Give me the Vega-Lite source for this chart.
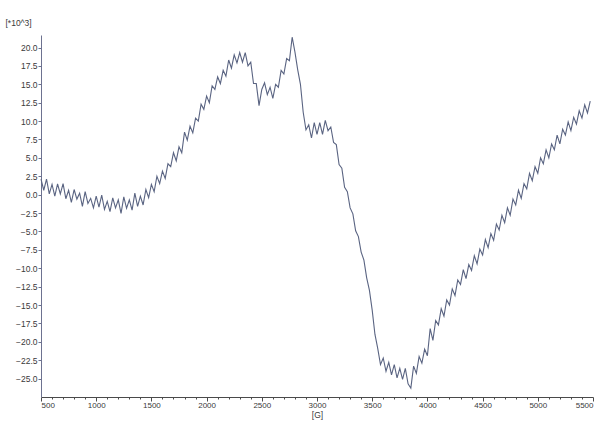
{
  "$schema": "https://vega.github.io/schema/vega-lite/v6.json",
  "width": 552,
  "height": 362,
  "autosize": {"type": "none"},
  "padding": {"left": 41, "top": 35, "right": 21, "bottom": 24},
  "background": "#ffffff",
  "config": {
    "view": {"stroke": null},
    "axis": {
      "labelFont": "Liberation Sans",
      "titleFont": "Liberation Sans",
      "labelFontSize": 8.5,
      "titleFontSize": 8.5,
      "labelColor": "#3a3a3a",
      "titleColor": "#3a3a3a",
      "titleFontWeight": "normal",
      "domainColor": "#6d7290",
      "tickColor": "#6d7290",
      "grid": false
    }
  },
  "data": {
    "values": [
      {"field": 500, "signal": 2.1}, {"field": 525, "signal": 0.6}, {"field": 550, "signal": 2.1}, {"field": 575, "signal": 0.1},
      {"field": 600, "signal": 1.4}, {"field": 625, "signal": -0.2}, {"field": 650, "signal": 1.45}, {"field": 675, "signal": 0.1},
      {"field": 700, "signal": 1.5}, {"field": 725, "signal": -0.55}, {"field": 750, "signal": 0.6}, {"field": 775, "signal": -1.05},
      {"field": 800, "signal": 0.7}, {"field": 825, "signal": -0.6}, {"field": 850, "signal": 0.2}, {"field": 875, "signal": -1.6},
      {"field": 900, "signal": 0.4}, {"field": 925, "signal": -1.2}, {"field": 950, "signal": -0.5}, {"field": 975, "signal": -1.8},
      {"field": 1000, "signal": -0.2}, {"field": 1025, "signal": -1.7}, {"field": 1050, "signal": -0.05}, {"field": 1075, "signal": -2.0},
      {"field": 1100, "signal": -0.9}, {"field": 1125, "signal": -2.3}, {"field": 1150, "signal": -0.45}, {"field": 1175, "signal": -1.8},
      {"field": 1200, "signal": -0.7}, {"field": 1225, "signal": -2.55}, {"field": 1250, "signal": -0.3}, {"field": 1275, "signal": -1.85},
      {"field": 1300, "signal": -0.7}, {"field": 1325, "signal": -2.1}, {"field": 1350, "signal": 0.2}, {"field": 1375, "signal": -1.6},
      {"field": 1400, "signal": -0.2}, {"field": 1425, "signal": -1.4}, {"field": 1450, "signal": 0.7}, {"field": 1475, "signal": -0.4},
      {"field": 1500, "signal": 1.4}, {"field": 1525, "signal": 0.4}, {"field": 1550, "signal": 2.5}, {"field": 1575, "signal": 1.5},
      {"field": 1600, "signal": 3.2}, {"field": 1625, "signal": 2.2}, {"field": 1650, "signal": 4.2}, {"field": 1675, "signal": 3.8},
      {"field": 1700, "signal": 5.7}, {"field": 1725, "signal": 4.6}, {"field": 1750, "signal": 6.5}, {"field": 1775, "signal": 5.7},
      {"field": 1800, "signal": 8.5}, {"field": 1825, "signal": 7.4}, {"field": 1850, "signal": 9.3}, {"field": 1875, "signal": 8.4},
      {"field": 1900, "signal": 10.4}, {"field": 1925, "signal": 10.0}, {"field": 1950, "signal": 12.3}, {"field": 1975, "signal": 11.6},
      {"field": 2000, "signal": 13.4}, {"field": 2025, "signal": 12.5}, {"field": 2050, "signal": 14.8}, {"field": 2075, "signal": 14.3},
      {"field": 2100, "signal": 16.0}, {"field": 2125, "signal": 15.1}, {"field": 2150, "signal": 16.9}, {"field": 2175, "signal": 16.1},
      {"field": 2200, "signal": 18.3}, {"field": 2225, "signal": 17.2}, {"field": 2250, "signal": 19.0}, {"field": 2275, "signal": 17.9},
      {"field": 2300, "signal": 19.3}, {"field": 2325, "signal": 18.0}, {"field": 2350, "signal": 19.3}, {"field": 2375, "signal": 17.5},
      {"field": 2400, "signal": 18.0}, {"field": 2425, "signal": 15.1}, {"field": 2450, "signal": 15.1}, {"field": 2475, "signal": 12.1},
      {"field": 2500, "signal": 14.3}, {"field": 2525, "signal": 15.2}, {"field": 2550, "signal": 13.6}, {"field": 2575, "signal": 14.6},
      {"field": 2600, "signal": 13.1}, {"field": 2625, "signal": 15.0}, {"field": 2650, "signal": 14.6}, {"field": 2675, "signal": 16.9},
      {"field": 2700, "signal": 16.4}, {"field": 2725, "signal": 18.5}, {"field": 2750, "signal": 18.2}, {"field": 2775, "signal": 21.4},
      {"field": 2800, "signal": 19.4}, {"field": 2825, "signal": 17.0}, {"field": 2850, "signal": 15.0}, {"field": 2875, "signal": 11.2},
      {"field": 2900, "signal": 8.8}, {"field": 2925, "signal": 9.5}, {"field": 2950, "signal": 7.7}, {"field": 2975, "signal": 9.8},
      {"field": 3000, "signal": 8.2}, {"field": 3025, "signal": 9.8}, {"field": 3050, "signal": 8.2}, {"field": 3075, "signal": 10.1},
      {"field": 3100, "signal": 8.7}, {"field": 3125, "signal": 9.2}, {"field": 3150, "signal": 7.1}, {"field": 3175, "signal": 6.8},
      {"field": 3200, "signal": 4.1}, {"field": 3225, "signal": 3.6}, {"field": 3250, "signal": 1.0}, {"field": 3275, "signal": 0.4},
      {"field": 3300, "signal": -1.8}, {"field": 3325, "signal": -2.6}, {"field": 3350, "signal": -4.9}, {"field": 3375, "signal": -5.7},
      {"field": 3400, "signal": -7.8}, {"field": 3425, "signal": -8.9}, {"field": 3450, "signal": -11.3}, {"field": 3475, "signal": -13.0},
      {"field": 3500, "signal": -15.7}, {"field": 3525, "signal": -19.0}, {"field": 3550, "signal": -20.9}, {"field": 3575, "signal": -23.1},
      {"field": 3600, "signal": -22.2}, {"field": 3625, "signal": -24.0}, {"field": 3650, "signal": -22.8}, {"field": 3675, "signal": -24.5},
      {"field": 3700, "signal": -23.1}, {"field": 3725, "signal": -24.9}, {"field": 3750, "signal": -23.6}, {"field": 3775, "signal": -25.1},
      {"field": 3800, "signal": -23.6}, {"field": 3825, "signal": -25.7}, {"field": 3850, "signal": -26.3}, {"field": 3875, "signal": -23.3},
      {"field": 3900, "signal": -24.3}, {"field": 3925, "signal": -22.0}, {"field": 3950, "signal": -22.9}, {"field": 3975, "signal": -21.0},
      {"field": 4000, "signal": -21.9}, {"field": 4025, "signal": -18.2}, {"field": 4050, "signal": -19.8}, {"field": 4075, "signal": -17.1},
      {"field": 4100, "signal": -17.7}, {"field": 4125, "signal": -15.5}, {"field": 4150, "signal": -16.5}, {"field": 4175, "signal": -14.3},
      {"field": 4200, "signal": -15.0}, {"field": 4225, "signal": -12.8}, {"field": 4250, "signal": -13.7}, {"field": 4275, "signal": -11.6},
      {"field": 4300, "signal": -12.2}, {"field": 4325, "signal": -10.2}, {"field": 4350, "signal": -11.4}, {"field": 4375, "signal": -9.5},
      {"field": 4400, "signal": -10.3}, {"field": 4425, "signal": -8.3}, {"field": 4450, "signal": -9.4}, {"field": 4475, "signal": -7.4},
      {"field": 4500, "signal": -8.2}, {"field": 4525, "signal": -6.1}, {"field": 4550, "signal": -7.2}, {"field": 4575, "signal": -5.3},
      {"field": 4600, "signal": -6.2}, {"field": 4625, "signal": -4.0}, {"field": 4650, "signal": -4.8}, {"field": 4675, "signal": -2.8},
      {"field": 4700, "signal": -3.8}, {"field": 4725, "signal": -1.8}, {"field": 4750, "signal": -2.8}, {"field": 4775, "signal": -0.6},
      {"field": 4800, "signal": -1.4}, {"field": 4825, "signal": 0.6}, {"field": 4850, "signal": -0.5}, {"field": 4875, "signal": 1.5},
      {"field": 4900, "signal": 0.8}, {"field": 4925, "signal": 2.9}, {"field": 4950, "signal": 1.9}, {"field": 4975, "signal": 3.8},
      {"field": 5000, "signal": 2.9}, {"field": 5025, "signal": 5.0}, {"field": 5050, "signal": 4.2}, {"field": 5075, "signal": 6.1},
      {"field": 5100, "signal": 5.0}, {"field": 5125, "signal": 6.9}, {"field": 5150, "signal": 6.1}, {"field": 5175, "signal": 8.1},
      {"field": 5200, "signal": 6.9}, {"field": 5225, "signal": 8.9}, {"field": 5250, "signal": 8.1}, {"field": 5275, "signal": 9.9},
      {"field": 5300, "signal": 8.7}, {"field": 5325, "signal": 10.5}, {"field": 5350, "signal": 9.6}, {"field": 5375, "signal": 11.4},
      {"field": 5400, "signal": 10.4}, {"field": 5425, "signal": 12.2}, {"field": 5450, "signal": 11.1}, {"field": 5475, "signal": 12.7}
    ]
  },
  "mark": {"type": "line", "color": "#5a6482", "strokeWidth": 1.1, "interpolate": "linear"},
  "encoding": {
    "x": {
      "field": "field",
      "type": "quantitative",
      "scale": {"domain": [500, 5500], "nice": false, "zero": false},
      "axis": {
        "title": "[G]",
        "titlePadding": 1,
        "values": [500, 600, 700, 800, 900, 1000, 1100, 1200, 1300, 1400, 1500, 1600, 1700, 1800, 1900, 2000, 2100, 2200, 2300, 2400, 2500, 2600, 2700, 2800, 2900, 3000, 3100, 3200, 3300, 3400, 3500, 3600, 3700, 3800, 3900, 4000, 4100, 4200, 4300, 4400, 4500, 4600, 4700, 4800, 4900, 5000, 5100, 5200, 5300, 5400, 5500],
        "labelExpr": "datum.value % 500 === 0 ? datum.label : ''",
        "format": "d",
        "labelOverlap": false,
        "labelPadding": 0,
        "labelFontSize": 8,
        "tickSize": {"condition": {"test": "datum.value % 500 === 0", "value": 4}, "value": 2},
        "domainColor": "#4a4a4a",
        "tickColor": "#4a4a4a"
      }
    },
    "y": {
      "field": "signal",
      "type": "quantitative",
      "scale": {"domain": [-27.5, 21.7], "nice": false, "zero": false},
      "axis": {
        "title": "[*10^3]",
        "titleAngle": 0,
        "titleAlign": "left",
        "titleBaseline": "middle",
        "titleX": -36,
        "titleY": -13,
        "values": [-25, -22.5, -20, -17.5, -15, -12.5, -10, -7.5, -5, -2.5, 0, 2.5, 5, 7.5, 10, 12.5, 15, 17.5, 20],
        "format": ".1f",
        "tickSize": 3,
        "labelPadding": 1
      }
    }
  }
}
